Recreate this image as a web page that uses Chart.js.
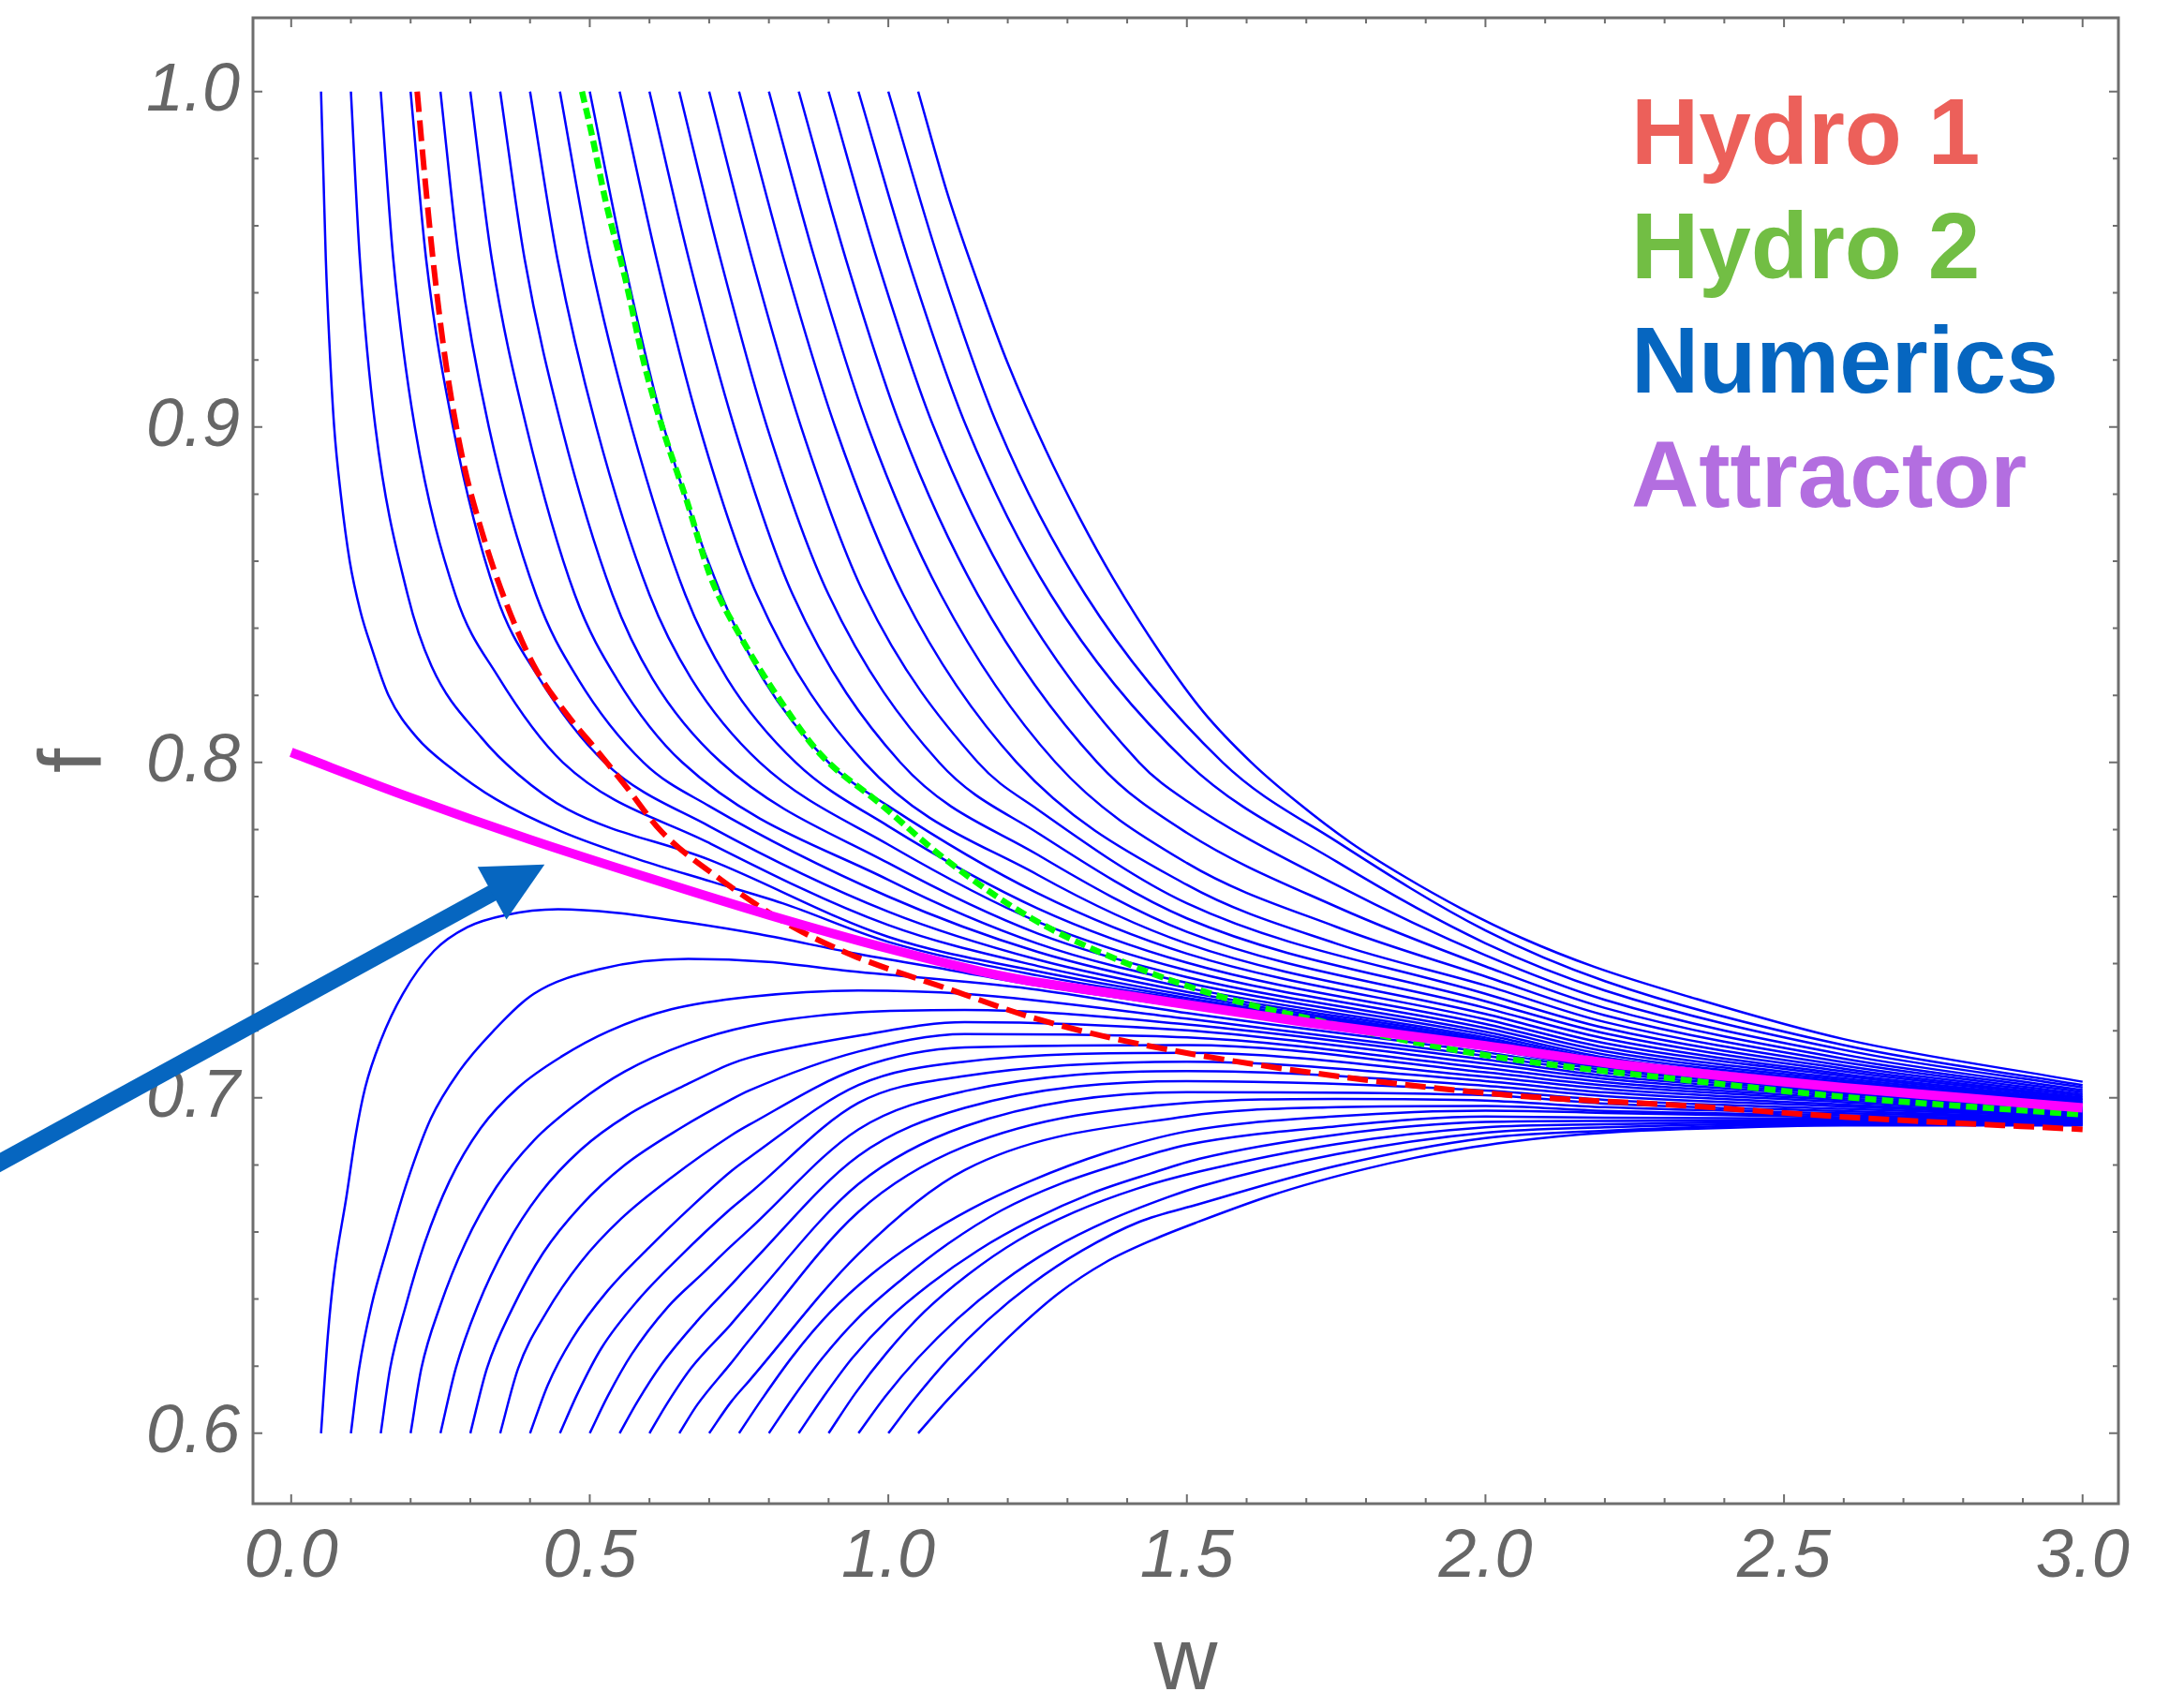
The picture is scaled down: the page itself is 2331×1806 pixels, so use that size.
<!DOCTYPE html>
<html>
<head>
<meta charset="utf-8">
<title>Attractor</title>
<script src="https://cdn.jsdelivr.net/npm/chart.js@4.4.1/dist/chart.umd.min.js"></script>
<style>
  html, body { margin: 0; padding: 0; background: #fff; overflow: hidden; }
  canvas { display: block; }
</style>
</head>
<body>
<canvas id="attractorChart" width="2331" height="1840"></canvas>
<script>
const xTickValues = [0, 0.5, 1.0, 1.5, 2.0, 2.5, 3.0];
const yTickValues = [0.6, 0.7, 0.8, 0.9, 1.0];
const seriesNames = ["Hydro 1", "Hydro 2", "Numerics", "Attractor"];
const seriesColors = ["#ec605a", "#72be44", "#0666c0", "#b36ee0"];

// [w, f] pairs
const attractor = [[0, 0.803], [0.2, 0.7895], [0.4, 0.777], [0.6, 0.7655], [0.8, 0.7545], [1.0, 0.7445], [1.2, 0.736], [1.4, 0.7305], [1.7, 0.7225], [2.0, 0.7155], [2.2, 0.7105], [2.4, 0.7065], [2.6, 0.703], [2.8, 0.700], [3.0, 0.697]];

const hydro1 = [[0.211, 1.0], [0.223, 0.976], [0.239, 0.9475], [0.259, 0.919], [0.287, 0.8906], [0.319, 0.869], [0.359, 0.848], [0.406, 0.829], [0.463, 0.814], [0.51, 0.804], [0.56, 0.793], [0.62, 0.7794], [0.72, 0.765], [0.83, 0.752], [0.94, 0.7425], [1.1, 0.7325], [1.24, 0.724], [1.4, 0.7168], [1.72, 0.7072], [2.04, 0.7008], [2.34, 0.6976], [2.6, 0.6943], [3.0, 0.6906]];

const hydro2 = [[0.487, 1.0], [0.503, 0.9876], [0.527, 0.967], [0.559, 0.9446], [0.591, 0.919], [0.623, 0.899], [0.663, 0.8777], [0.703, 0.855], [0.751, 0.838], [0.815, 0.8195], [0.887, 0.8023], [0.984, 0.788], [1.1, 0.7705], [1.24, 0.7535], [1.4, 0.740], [1.56, 0.730], [1.72, 0.723], [1.88, 0.7166], [2.04, 0.7116], [2.34, 0.7052], [2.6, 0.7003], [3.0, 0.695]];

// numerical solutions starting at f = 1
const numericsUpper = [
  [[0.05, 1.0], [0.054, 0.975], [0.058, 0.95], [0.064, 0.925], [0.072, 0.90], [0.083, 0.88], [0.098, 0.86], [0.116, 0.845], [0.135, 0.834], [0.163, 0.82], [0.211, 0.8073], [0.265, 0.7987], [0.343, 0.789], [0.451, 0.7795], [0.583, 0.771], [0.703, 0.7645], [0.823, 0.758], [1.0, 0.7465], [1.25, 0.7365], [1.5, 0.7292], [2.0, 0.7162], [2.2, 0.7098], [2.6, 0.7032], [3.0, 0.6972]],
  [[0.10, 1.0], [0.115, 0.95], [0.141, 0.90], [0.195, 0.85], [0.235, 0.8287], [0.319, 0.8073], [0.379, 0.7966], [0.463, 0.786], [0.7, 0.771], [1.0, 0.748], [1.25, 0.7377], [1.5, 0.7298], [2.0, 0.7165], [2.2, 0.7099], [2.6, 0.7032], [3.0, 0.6972]],
  [[0.15, 1.0], [0.171, 0.95], [0.207, 0.90], [0.275, 0.85], [0.345, 0.826], [0.455, 0.80], [0.7, 0.776], [1.0, 0.7515], [1.25, 0.7393], [1.5, 0.7306], [2.0, 0.7169], [2.2, 0.7101], [2.6, 0.7033], [3.0, 0.6973]],
  [[0.20, 1.0], [0.226, 0.95], [0.271, 0.90], [0.343, 0.85], [0.412, 0.826], [0.525, 0.80], [0.7, 0.781], [1.0, 0.7555], [1.25, 0.7412], [1.5, 0.7316], [2.0, 0.7174], [2.2, 0.7104], [2.6, 0.7035], [3.0, 0.6974]],
  [[0.25, 1.0], [0.281, 0.95], [0.331, 0.90], [0.41, 0.85], [0.48, 0.825], [0.59, 0.80], [0.7, 0.787], [1.0, 0.760], [1.25, 0.7435], [1.5, 0.7328], [2.0, 0.718], [2.2, 0.7108], [2.6, 0.7037], [3.0, 0.6975]],
  [[0.30, 1.0], [0.336, 0.95], [0.394, 0.90], [0.475, 0.85], [0.545, 0.825], [0.655, 0.80], [1.0, 0.765], [1.25, 0.746], [1.5, 0.7343], [2.0, 0.7188], [2.2, 0.7113], [2.6, 0.7039], [3.0, 0.6976]],
  [[0.35, 1.0], [0.391, 0.95], [0.453, 0.90], [0.538, 0.85], [0.605, 0.825], [0.72, 0.80], [1.0, 0.770], [1.25, 0.749], [1.5, 0.736], [2.0, 0.7197], [2.2, 0.712], [2.6, 0.7043], [3.0, 0.6978]],
  [[0.40, 1.0], [0.446, 0.95], [0.511, 0.90], [0.60, 0.85], [0.67, 0.825], [0.785, 0.80], [1.0, 0.7755], [1.25, 0.7525], [1.5, 0.738], [2.0, 0.7208], [2.2, 0.7129], [2.6, 0.7047], [3.0, 0.698]],
  [[0.45, 1.0], [0.501, 0.95], [0.570, 0.90], [0.66, 0.85], [0.73, 0.825], [0.845, 0.80], [1.0, 0.781], [1.25, 0.7565], [1.5, 0.7403], [2.0, 0.722], [2.2, 0.7139], [2.6, 0.7052], [3.0, 0.6983]],
  [[0.50, 1.0], [0.557, 0.95], [0.624, 0.90], [0.72, 0.85], [0.79, 0.825], [0.90, 0.80], [1.0, 0.787], [1.25, 0.761], [1.5, 0.743], [2.0, 0.7234], [2.2, 0.715], [2.6, 0.7058], [3.0, 0.6986]],
  [[0.55, 1.0], [0.612, 0.95], [0.684, 0.90], [0.78, 0.85], [0.96, 0.80], [1.25, 0.7665], [1.5, 0.746], [2.0, 0.725], [2.2, 0.7163], [2.6, 0.7065], [3.0, 0.6989]],
  [[0.60, 1.0], [0.666, 0.95], [0.742, 0.90], [0.84, 0.85], [1.02, 0.80], [1.25, 0.7725], [1.5, 0.7495], [2.0, 0.7268], [2.2, 0.7177], [2.6, 0.7071], [3.0, 0.6993]],
  [[0.65, 1.0], [0.719, 0.95], [0.797, 0.90], [0.90, 0.85], [1.085, 0.80], [1.25, 0.779], [1.5, 0.7535], [2.0, 0.7288], [2.2, 0.7192], [2.6, 0.7079], [3.0, 0.6997]],
  [[0.70, 1.0], [0.772, 0.95], [0.854, 0.90], [0.96, 0.85], [1.15, 0.80], [1.25, 0.786], [1.5, 0.758], [2.0, 0.731], [2.2, 0.7208], [2.6, 0.7087], [3.0, 0.7001]],
  [[0.75, 1.0], [0.825, 0.95], [0.911, 0.90], [1.025, 0.85], [1.215, 0.80], [1.5, 0.7635], [1.75, 0.746], [2.0, 0.7335], [2.2, 0.7226], [2.6, 0.7096], [3.0, 0.7006]],
  [[0.80, 1.0], [0.877, 0.95], [0.966, 0.90], [1.088, 0.85], [1.28, 0.80], [1.5, 0.770], [1.75, 0.751], [2.0, 0.7362], [2.2, 0.7246], [2.6, 0.7106], [3.0, 0.7011]],
  [[0.85, 1.0], [0.929, 0.95], [1.021, 0.90], [1.15, 0.85], [1.35, 0.80], [1.5, 0.779], [1.75, 0.757], [2.0, 0.7392], [2.2, 0.7268], [2.6, 0.7117], [3.0, 0.7017]],
  [[0.90, 1.0], [0.981, 0.95], [1.076, 0.90], [1.212, 0.85], [1.42, 0.80], [1.5, 0.7885], [1.75, 0.7635], [2.0, 0.7425], [2.2, 0.7292], [2.6, 0.7129], [3.0, 0.7023]],
  [[0.95, 1.0], [1.033, 0.95], [1.131, 0.90], [1.272, 0.85], [1.50, 0.80], [1.75, 0.7705], [2.0, 0.7461], [2.2, 0.732], [2.6, 0.7143], [3.0, 0.7031]],
  [[1.0, 1.0], [1.084, 0.95], [1.184, 0.90], [1.33, 0.85], [1.56, 0.80], [1.75, 0.7765], [2.0, 0.7499], [2.2, 0.7348], [2.6, 0.7157], [3.0, 0.7038]],
  [[1.05, 1.0], [1.10, 0.969], [1.16, 0.938], [1.20, 0.919], [1.264, 0.893], [1.32, 0.873], [1.376, 0.855], [1.456, 0.8325], [1.528, 0.815], [1.608, 0.80], [1.686, 0.788], [1.775, 0.776], [1.864, 0.766], [1.959, 0.7565], [2.063, 0.7475], [2.183, 0.739], [2.334, 0.7305], [2.6, 0.7175], [3.0, 0.7048]]
];

// numerical solutions starting at f = 0.6
const numericsLower = [
  [[0.05, 0.6], [0.0612, 0.6287], [0.0717, 0.6473], [0.0926, 0.6706], [0.1083, 0.6892], [0.124, 0.7031], [0.150, 0.7171], [0.187, 0.731], [0.239, 0.7438], [0.295, 0.7509], [0.359, 0.7545], [0.447, 0.7562], [0.543, 0.7552], [0.663, 0.7523], [0.783, 0.7488], [0.943, 0.7431], [1.103, 0.7381], [1.238, 0.7338], [1.5, 0.727], [2.0, 0.7146], [2.2, 0.709], [2.6, 0.7025], [3.0, 0.6968]],
  [[0.10, 0.6], [0.1135, 0.619], [0.1344, 0.638], [0.1632, 0.6566], [0.1946, 0.6752], [0.2338, 0.6938], [0.2809, 0.7078], [0.3384, 0.7199], [0.4064, 0.731], [0.52, 0.7385], [0.665, 0.7414], [0.80, 0.7405], [0.924, 0.738], [1.238, 0.7325], [1.5, 0.7253], [2.0, 0.7136], [2.2, 0.7083], [2.6, 0.7021], [3.0, 0.6966]],
  [[0.15, 0.6], [0.1658, 0.6194], [0.1919, 0.638], [0.2233, 0.6566], [0.2652, 0.6752], [0.3175, 0.691], [0.3802, 0.7031], [0.4535, 0.7124], [0.5319, 0.7199], [0.6366, 0.7264], [0.7673, 0.7301], [0.95, 0.732], [1.128, 0.731], [1.5, 0.7236], [2.0, 0.7125], [2.2, 0.7075], [2.6, 0.7016], [3.0, 0.6963]],
  [[0.20, 0.6], [0.2181, 0.6194], [0.2495, 0.638], [0.2914, 0.6566], [0.3436, 0.6734], [0.4064, 0.6873], [0.4797, 0.6985], [0.5581, 0.7078], [0.6627, 0.7161], [0.7673, 0.7214], [0.95, 0.7255], [1.128, 0.7262], [1.5, 0.7219], [2.0, 0.7114], [2.2, 0.7066], [2.6, 0.7011], [3.0, 0.6961]],
  [[0.25, 0.6], [0.2757, 0.6194], [0.3123, 0.638], [0.3593, 0.6557], [0.4169, 0.6715], [0.4849, 0.6845], [0.5633, 0.6948], [0.6627, 0.704], [0.736, 0.7101], [0.7673, 0.712], [0.95, 0.7185], [1.128, 0.7226], [1.5, 0.7201], [2.0, 0.7102], [2.2, 0.7057], [2.6, 0.7005], [3.0, 0.6958]],
  [[0.30, 0.6], [0.3279, 0.6194], [0.3698, 0.637], [0.4221, 0.6538], [0.4849, 0.6678], [0.5581, 0.6799], [0.6523, 0.691], [0.736, 0.6994], [0.7673, 0.7022], [0.95, 0.7138], [1.128, 0.719], [1.5, 0.718], [2.0, 0.7089], [2.2, 0.7047], [2.6, 0.6999], [3.0, 0.6955]],
  [[0.35, 0.6], [0.3802, 0.6194], [0.4273, 0.636], [0.4849, 0.651], [0.5528, 0.664], [0.6366, 0.6762], [0.736, 0.6887], [0.7673, 0.692], [0.95, 0.7088], [1.128, 0.715], [1.5, 0.7157], [2.0, 0.7076], [2.2, 0.7037], [2.6, 0.6993], [3.0, 0.6953]],
  [[0.40, 0.6], [0.43, 0.6145], [0.47, 0.628], [0.53, 0.6425], [0.60, 0.6555], [0.67, 0.6675], [0.736, 0.678], [0.7673, 0.6822], [0.95, 0.7038], [1.128, 0.7108], [1.5, 0.7134], [2.0, 0.7063], [2.2, 0.7027], [2.6, 0.6987], [3.0, 0.695]],
  [[0.45, 0.6], [0.48, 0.612], [0.52, 0.6255], [0.58, 0.6395], [0.65, 0.6525], [0.736, 0.6669], [0.7673, 0.6715], [0.95, 0.6985], [1.128, 0.7065], [1.5, 0.7108], [2.0, 0.705], [2.2, 0.7016], [2.6, 0.698], [3.0, 0.6948]],
  [[0.50, 0.6], [0.53, 0.611], [0.57, 0.6235], [0.63, 0.6375], [0.69, 0.6478], [0.736, 0.6557], [0.7673, 0.6608], [0.95, 0.6906], [1.128, 0.702], [1.5, 0.708], [2.0, 0.7036], [2.2, 0.7005], [2.6, 0.6974], [3.0, 0.6945]],
  [[0.55, 0.6], [0.58, 0.6095], [0.62, 0.6205], [0.68, 0.6335], [0.736, 0.6441], [0.7673, 0.6501], [0.95, 0.6827], [1.128, 0.697], [1.5, 0.705], [2.0, 0.7022], [2.2, 0.6994], [2.6, 0.6967], [3.0, 0.6943]],
  [[0.60, 0.6], [0.63, 0.609], [0.67, 0.6195], [0.736, 0.6324], [0.7673, 0.6389], [0.95, 0.6743], [1.128, 0.6915], [1.5, 0.7017], [2.0, 0.7008], [2.2, 0.6983], [2.6, 0.696], [3.0, 0.694]],
  [[0.65, 0.6], [0.68, 0.6085], [0.736, 0.6208], [0.7673, 0.6278], [0.95, 0.666], [1.128, 0.6855], [1.5, 0.6985], [1.75, 0.6997], [2.0, 0.6992], [2.2, 0.6972], [2.6, 0.6954], [3.0, 0.6938]],
  [[0.70, 0.6], [0.736, 0.6092], [0.7673, 0.6157], [0.95, 0.6535], [1.128, 0.6785], [1.5, 0.6945], [1.75, 0.6972], [2.0, 0.6976], [2.2, 0.6961], [2.6, 0.6948], [3.0, 0.6935]],
  [[0.75, 0.6], [0.788, 0.6101], [0.8405, 0.6231], [0.9033, 0.6362], [0.9713, 0.6473], [1.0497, 0.6575], [1.1387, 0.6669], [1.238, 0.6752], [1.364, 0.6836], [1.5, 0.690], [1.75, 0.6945], [2.0, 0.6962], [2.2, 0.6955], [2.6, 0.6942], [3.0, 0.6933]],
  [[0.80, 0.6], [0.84, 0.6105], [0.89, 0.6225], [0.95, 0.6345], [1.02, 0.6455], [1.10, 0.6565], [1.19, 0.6665], [1.29, 0.6745], [1.40, 0.681], [1.5, 0.686], [1.75, 0.6915], [2.0, 0.6944], [2.2, 0.6941], [2.6, 0.6937], [3.0, 0.693]],
  [[0.85, 0.6], [0.89, 0.6105], [0.94, 0.6225], [1.0, 0.634], [1.07, 0.6445], [1.15, 0.6545], [1.24, 0.6635], [1.34, 0.6715], [1.44, 0.6775], [1.52, 0.6818], [1.75, 0.689], [2.0, 0.6928], [2.2, 0.6931], [2.6, 0.6933], [3.0, 0.6928]],
  [[0.90, 0.6], [0.9451, 0.612], [0.9974, 0.624], [1.0602, 0.6362], [1.1334, 0.6473], [1.2171, 0.6575], [1.3113, 0.6659], [1.4159, 0.6729], [1.5205, 0.678], [1.75, 0.6862], [2.0, 0.6912], [2.2, 0.6921], [2.6, 0.6929], [3.0, 0.6925]],
  [[0.95, 0.6], [0.995, 0.611], [1.05, 0.6225], [1.115, 0.634], [1.19, 0.645], [1.275, 0.655], [1.37, 0.6635], [1.47, 0.6705], [1.52, 0.6735], [1.75, 0.6832], [2.0, 0.6896], [2.2, 0.6912], [2.6, 0.6925], [3.0, 0.6923]],
  [[1.0, 0.6], [1.045, 0.6105], [1.10, 0.622], [1.165, 0.6335], [1.24, 0.6445], [1.325, 0.6545], [1.42, 0.663], [1.52, 0.6683], [1.75, 0.6797], [2.0, 0.688], [2.2, 0.6902], [2.6, 0.6922], [3.0, 0.692]],
  [[1.05, 0.6], [1.10, 0.6101], [1.155, 0.6204], [1.207, 0.6296], [1.285, 0.6417], [1.364, 0.651], [1.442, 0.6576], [1.52, 0.6631], [1.641, 0.6709], [1.721, 0.6752], [1.801, 0.6789], [1.881, 0.6821], [1.961, 0.6848], [2.041, 0.6869], [2.122, 0.6885], [2.202, 0.6896], [2.336, 0.6907], [2.6, 0.6918], [3.0, 0.6918]]
];

// annotation arrow, in data coordinates (tail runs off the left edge)
const arrowTail = [-0.5, 0.6795];
const arrowHead = [0.4244, 0.7696];

const fontFamily = "'Liberation Sans', Arial, Helvetica, sans-serif";
const axisGrey = "#666666";
const frameGrey = "#6e6e6e";

const toPoints = (pairs) => pairs.map(([x, y]) => ({ x, y }));

// frame with inward ticks on all four sides, the arrow and the coloured legend
const framePlugin = {
    id: "frameAndNotes",
    afterDraw(chart) {
        const { ctx, chartArea: area, scales: { x, y } } = chart;
        ctx.save();

        ctx.strokeStyle = frameGrey;
        ctx.lineWidth = 2;
        ctx.beginPath();
        for (let i = 0; i <= 30; i++) {
            const px = x.getPixelForValue(i / 10);
            const len = i % 5 === 0 ? 10 : 6;
            ctx.moveTo(px, area.bottom);
            ctx.lineTo(px, area.bottom - len);
            ctx.moveTo(px, area.top);
            ctx.lineTo(px, area.top + len);
        }
        for (let i = 30; i <= 50; i++) {
            const py = y.getPixelForValue(i / 50);
            const len = i % 5 === 0 ? 10 : 6;
            ctx.moveTo(area.left, py);
            ctx.lineTo(area.left + len, py);
            ctx.moveTo(area.right, py);
            ctx.lineTo(area.right - len, py);
        }
        ctx.stroke();
        ctx.lineWidth = 3;
        ctx.strokeRect(area.left, area.top, area.right - area.left, area.bottom - area.top);

        const tx = x.getPixelForValue(arrowTail[0]);
        const ty = y.getPixelForValue(arrowTail[1]);
        const hx = x.getPixelForValue(arrowHead[0]);
        const hy = y.getPixelForValue(arrowHead[1]);
        const ang = Math.atan2(hy - ty, hx - tx);
        const headLen = 64;
        const headHalf = 32;
        const bx = hx - headLen * Math.cos(ang);
        const by = hy - headLen * Math.sin(ang);
        ctx.strokeStyle = seriesColors[2];
        ctx.fillStyle = seriesColors[2];
        ctx.lineWidth = 18;
        ctx.lineCap = "butt";
        ctx.beginPath();
        ctx.moveTo(tx, ty);
        ctx.lineTo(bx + 2 * Math.cos(ang), by + 2 * Math.sin(ang));
        ctx.stroke();
        ctx.beginPath();
        ctx.moveTo(hx, hy);
        ctx.lineTo(bx + headHalf * Math.sin(ang), by - headHalf * Math.cos(ang));
        ctx.lineTo(bx - headHalf * Math.sin(ang), by + headHalf * Math.cos(ang));
        ctx.closePath();
        ctx.fill();

        ctx.font = "bold 100px " + fontFamily;
        ctx.textAlign = "left";
        ctx.textBaseline = "alphabetic";
        seriesNames.forEach((name, i) => {
            ctx.fillStyle = seriesColors[i];
            ctx.fillText(name, area.right - 520, area.top + 156 + i * 122);
        });

        ctx.restore();
    }
};

const numericsStyle = { label: seriesNames[2], borderColor: "#0000ff", borderWidth: 2.5, order: 3 };

const datasets = [
    { label: seriesNames[3], data: toPoints(attractor), borderColor: "#ff00ff", borderWidth: 10, order: 0 },
    { label: seriesNames[1], data: toPoints(hydro2), borderColor: "#00ff00", borderWidth: 6.5, borderDash: [12, 6], order: 1 },
    { label: seriesNames[0], data: toPoints(hydro1), borderColor: "#ff0000", borderWidth: 6, borderDash: [22, 9], order: 2 },
    ...numericsUpper.concat(numericsLower).map((curve) => ({ ...numericsStyle, data: toPoints(curve) }))
];

const tickFont = { family: fontFamily, size: 72, style: "italic" };
const titleFont = { family: fontFamily, size: 94 };

new Chart(document.getElementById("attractorChart"), {
    type: "line",
    data: { datasets },
    options: {
        responsive: false,
        animation: false,
        events: [],
        layout: { autoPadding: false, padding: { left: 0, right: 70, top: 19, bottom: 0 } },
        elements: {
            point: { radius: 0 },
            line: { cubicInterpolationMode: "monotone", fill: false, borderCapStyle: "butt" }
        },
        plugins: {
            legend: { display: false },
            tooltip: { enabled: false }
        },
        scales: {
            x: {
                type: "linear",
                min: -0.064,
                max: 3.06,
                afterBuildTicks: (axis) => { axis.ticks = xTickValues.map((value) => ({ value })); },
                afterFit: (axis) => {
                    axis.height = 235;
                    axis.paddingLeft = 0;
                    axis.paddingRight = 0;
                },
                grid: { display: false, drawTicks: false },
                border: { display: false },
                ticks: {
                    padding: 15,
                    color: axisGrey,
                    font: tickFont,
                    maxRotation: 0,
                    autoSkip: false,
                    callback: (value) => Number(value).toFixed(1)
                },
                title: { display: true, text: "w", color: axisGrey, font: titleFont, padding: { top: 0, bottom: 7 } }
            },
            y: {
                type: "linear",
                min: 0.579,
                max: 1.022,
                afterBuildTicks: (axis) => { axis.ticks = yTickValues.map((value) => ({ value })); },
                afterFit: (axis) => {
                    axis.width = 270;
                    axis.paddingTop = 0;
                    axis.paddingBottom = 0;
                },
                grid: { display: false, drawTicks: false },
                border: { display: false },
                ticks: {
                    padding: 14,
                    color: axisGrey,
                    font: tickFont,
                    autoSkip: false,
                    callback: (value) => Number(value).toFixed(1)
                },
                title: { display: true, text: "f", color: axisGrey, font: titleFont, padding: { top: 26, bottom: 0 } }
            }
        }
    },
    plugins: [framePlugin]
});
</script>
</body>
</html>
